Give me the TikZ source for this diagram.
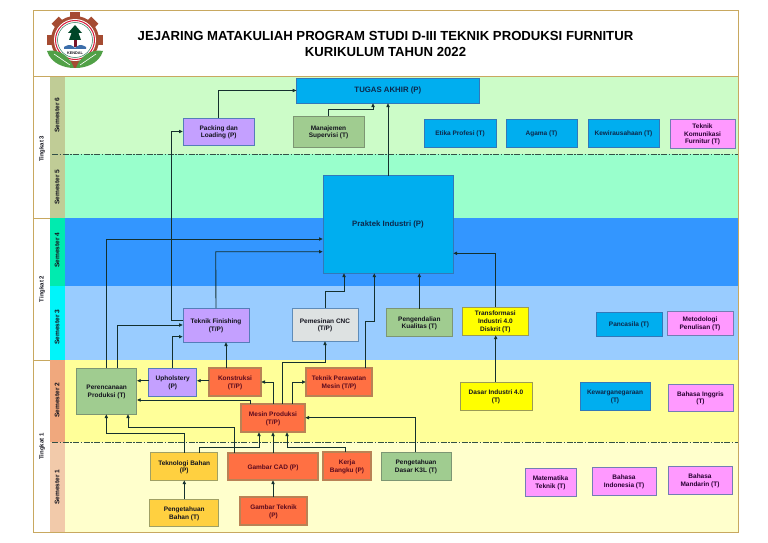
\documentclass[tikz,border=0pt]{standalone}
\usepackage{fontspec}
\setmainfont{Liberation Sans}
\usetikzlibrary{arrows.meta}
\definecolor{frameC}{HTML}{C8A860}
\definecolor{lineC}{HTML}{14302E}
\definecolor{txtC}{HTML}{14141E}
\tikzset{
  every node/.style={inner sep=0pt,outer sep=0pt,font=\bfseries\fontsize{6.5}{7.7}\selectfont,text=txtC,align=center},
  conn/.style={draw=lineC,line width=0.9pt,-{Latex[length=4pt,width=3.8pt]}},
  bluebox/.style={fill={rgb,255:red,0;green,174;blue,239},draw={rgb,255:red,50;green,120;blue,185},line width=1pt,text={rgb,255:red,12;green,40;blue,75}},
  purplebox/.style={fill={rgb,255:red,196;green,160;blue,255},draw={rgb,255:red,85;green,125;blue,185},line width=1pt},
  greenbox/.style={fill={rgb,255:red,160;green,204;blue,144},draw={rgb,255:red,125;green,150;blue,115},line width=1pt},
  orangebox/.style={fill={rgb,255:red,255;green,112;blue,67},draw={rgb,255:red,185;green,130;blue,85},line width=1.6pt,text={rgb,255:red,90;green,10;blue,30}},
  goldbox/.style={fill={rgb,255:red,255;green,208;blue,64},draw={rgb,255:red,160;green,160;blue,100},line width=1pt},
  yellowbox/.style={fill={rgb,255:red,255;green,255;blue,0},draw={rgb,255:red,155;green,155;blue,85},line width=1pt},
  graybox/.style={fill={rgb,255:red,222;green,226;blue,226},draw={rgb,255:red,95;green,140;blue,185},line width=1pt},
  pinkbox/.style={fill={rgb,255:red,255;green,153;blue,255},draw={rgb,255:red,115;green,125;blue,180},line width=1pt,text={rgb,255:red,40;green,0;blue,50}},
  semlabel/.style={rotate=90,font=\bfseries\fontsize{6.6}{7}\selectfont},
  tinglabel/.style={rotate=90,font=\bfseries\fontsize{6}{7}\selectfont},
  sepline/.style={draw={rgb,255:red,50;green,80;blue,70},line width=0.7pt,dash pattern=on 6pt off 1.5pt on 1.5pt off 1.5pt}
}
\newcommand{\boxnode}[7]{%
  \pgfmathsetmacro\bw{#4-#2}\pgfmathsetmacro\bh{#5-#3}%
  \pgfmathsetmacro\bx{(#2+#4)/2}\pgfmathsetmacro\by{(#3+#5)/2}%
  \node[#6,minimum width=\bw pt,minimum height=\bh pt] (#1) at (\bx,\by) {\rule{0pt}{6.4pt}#7};}
\begin{document}
\begin{tikzpicture}[x=1pt,y=-1pt]
\useasboundingbox (0,0) rectangle (768,543);
% bands
\fill[white] (0,0) rectangle (768,543);
\fill[fill={rgb,255:red,204;green,252;blue,200}] (65,76) rectangle (738,154);
\fill[fill={rgb,255:red,153;green,255;blue,204}] (65,154) rectangle (738,218);
\fill[fill={rgb,255:red,51;green,150;blue,255}] (65,218) rectangle (738,286);
\fill[fill={rgb,255:red,153;green,204;blue,255}] (65,286) rectangle (738,360);
\fill[fill={rgb,255:red,255;green,255;blue,153}] (65,360) rectangle (738,442);
\fill[fill={rgb,255:red,255;green,255;blue,204}] (65,442) rectangle (738,532);
% semester strips
\fill[fill={rgb,255:red,192;green,204;blue,150}] (50,76) rectangle (65,218);
\fill[fill={rgb,255:red,0;green,235;blue,175}] (50,218) rectangle (65,286);
\fill[fill={rgb,255:red,0;green,245;blue,250}] (50,286) rectangle (65,360);
\fill[fill={rgb,255:red,240;green,168;blue,125}] (50,360) rectangle (65,442);
\fill[fill={rgb,255:red,242;green,202;blue,170}] (50,442) rectangle (65,532);
% frame
\draw[frameC,line width=1pt] (33,10.5) rectangle (738,532);
\draw[frameC,line width=1pt] (33,76) -- (738,76);
\draw[frameC,line width=0.7pt] (33,218) -- (50,218);
\draw[frameC,line width=0.7pt] (33,360) -- (50,360);
\draw[sepline] (52,154) -- (738,154);
\draw[sepline] (52,442) -- (738,442);
% side labels
\node[tinglabel] (t3) at (42,148.8) {Tingkat 3};
\node[tinglabel] (t2) at (42,289) {Tingkat 2};
\node[tinglabel] (t1) at (42,446.7) {Tingkat 1};
\node[semlabel] (s6) at (57,115) {Semester 6};
\node[semlabel] (s5) at (57,187) {Semester 5};
\node[semlabel] (s4) at (57,250) {Semester 4};
\node[semlabel] (s3) at (57,327) {Semester 3};
\node[semlabel] (s2) at (57,400) {Semester 2};
\node[semlabel] (s1) at (57,487) {Semester 1};
% title
\node[font=\bfseries\fontsize{13.15}{16.4}\selectfont,text=black] (title) at (385.5,43.8) {JEJARING MATAKULIAH PROGRAM STUDI D-III TEKNIK PRODUKSI FURNITUR\\KURIKULUM TAHUN 2022};
% logo
\begin{scope}[shift={(75,40)}]
  \foreach \a in {0,45,...,315}{
    \fill[fill={rgb,255:red,165;green,75;blue,50},rotate=\a] (-5,-28) rectangle (5,-21);
  }
  \fill[fill={rgb,255:red,165;green,75;blue,50}] (0,0) circle (24);
  \fill[white] (0,0) circle (21);
  \draw[draw={rgb,255:red,215;green,30;blue,60},line width=1pt] (0,0) circle (19.5);
  \draw[draw={rgb,255:red,40;green,120;blue,90},line width=0.5pt] (0,0) circle (17.5);
  \fill[fill={rgb,255:red,120;green,20;blue,40}] (-1.5,-9) rectangle (1.5,7);
  \fill[fill={rgb,255:red,0;green,70;blue,40}] (0,-15) -- (7,-7) -- (3.5,-7) -- (6,0) -- (-6,0) -- (-3.5,-7) -- (-7,-7) -- cycle;
  \fill[fill={rgb,255:red,60;green,110;blue,170}] (-11,7) .. controls (-5,3) and (-2,6) .. (0,8) .. controls (2,6) and (5,3) .. (11,7) -- (11,9) -- (-11,9) -- cycle;
  \fill[fill={rgb,255:red,80;green,160;blue,70}] (-1,28) .. controls (-10,28) and (-24,24) .. (-28,11) .. controls (-18,9) and (-6,14) .. (-1,28) -- cycle;
  \fill[fill={rgb,255:red,80;green,160;blue,70}] (1,28) .. controls (10,28) and (24,24) .. (28,11) .. controls (18,9) and (6,14) .. (1,28) -- cycle;
  \draw[white,line width=0.6pt] (-5,25) -- (-21,14);
  \draw[white,line width=0.6pt] (5,25) -- (21,14);
  \node[font=\bfseries\fontsize{3.8}{4}\selectfont] (kendal) at (0,13) {KENDAL};
\end{scope}
% nodes
\boxnode{tugas}{296.7}{78}{479}{103}{bluebox}{\fontsize{7.8}{9}\selectfont TUGAS AKHIR (P)}
\boxnode{packing}{183}{118}{254.5}{145}{purplebox}{Packing dan\\Loading (P)}
\boxnode{manajemen}{293}{116}{364}{147}{greenbox}{Manajemen\\Supervisi (T)}
\boxnode{praktek}{323}{175.5}{453}{273}{bluebox}{\fontsize{7.8}{9}\selectfont Praktek Industri (P)}
\boxnode{etika}{424}{119}{496}{147}{bluebox}{Etika Profesi (T)}
\boxnode{agama}{506}{119}{577}{147}{bluebox}{Agama (T)}
\boxnode{kewira}{588}{119}{659}{147}{bluebox}{Kewirausahaan (T)}
\boxnode{tekkom}{670}{119}{735}{148}{pinkbox}{Teknik\\Komunikasi\\Furnitur (T)}
\boxnode{finishing}{183}{308}{249}{342}{purplebox}{Teknik Finishing\\(T/P)}
\boxnode{pemesinan}{292}{308}{358}{341}{graybox}{Pemesinan CNC\\(T/P)}
\boxnode{kualitas}{386.7}{308.7}{452}{336}{greenbox}{Pengendalian\\Kualitas (T)}
\boxnode{transform}{462.7}{307}{528}{335}{yellowbox}{Transformasi\\Industri 4.0\\Diskrit (T)}
\boxnode{pancasila}{596}{312}{662}{336}{bluebox}{Pancasila (T)}
\boxnode{metodologi}{667}{311}{733}{335}{pinkbox}{Metodologi\\Penulisan (T)}
\boxnode{perencanaan}{76.7}{368}{136.7}{414}{greenbox}{Perencanaan\\Produksi (T)}
\boxnode{upholstery}{148.7}{368}{196.7}{396}{purplebox}{Upholstery\\(P)}
\boxnode{konstruksi}{209}{368}{261}{396}{orangebox}{Konstruksi\\(T/P)}
\boxnode{perawatan}{306}{368}{372}{396}{orangebox}{Teknik Perawatan\\Mesin (T/P)}
\boxnode{mesin}{241}{404}{305}{432}{orangebox}{Mesin Produksi\\(T/P)}
\boxnode{dasar}{460}{382}{532}{410}{yellowbox}{Dasar Industri 4.0\\(T)}
\boxnode{kewarga}{580}{382}{650}{410}{bluebox}{Kewarganegaraan\\(T)}
\boxnode{inggris}{668}{384}{733}{411}{pinkbox}{Bahasa Inggris\\(T)}
\boxnode{tekbahan}{150.7}{452.7}{217.7}{480}{goldbox}{Teknologi Bahan\\(P)}
\boxnode{cad}{228}{453}{318}{480}{orangebox}{Gambar CAD (P)}
\boxnode{kerja}{323}{452}{371}{480}{orangebox}{Kerja\\Bangku (P)}
\boxnode{ktiga}{381}{452}{451}{480}{greenbox}{Pengetahuan\\Dasar K3L (T)}
\boxnode{pengbahan}{149.7}{499}{218.7}{526.7}{goldbox}{Pengetahuan\\Bahan (T)}
\boxnode{gamtek}{240}{497}{307}{525}{orangebox}{Gambar Teknik\\(P)}
\boxnode{matematika}{525}{468}{576}{496}{pinkbox}{Matematika\\Teknik (T)}
\boxnode{indonesia}{592}{467}{656}{495}{pinkbox}{Bahasa\\Indonesia (T)}
\boxnode{mandarin}{668}{466}{732}{494}{pinkbox}{Bahasa\\Mandarin (T)}
% connectors
\draw[conn] (packing.north) |- (tugas.west);
\draw[conn] (328.5,0 |- manajemen.north) -- (328.5,109) -- (373,109) -- (373,0 |- tugas.south);
\draw[conn] (388,0 |- praktek.north) -- (388,0 |- tugas.south);
\draw[conn] (finishing.west |- 0,320.7) -- (171,320.7) -- (171,131.5) -- (packing.west);
\draw[conn] (106.3,0 |- perencanaan.north) -- (106.3,239) -- (praktek.west |- 0,239);
\draw[conn] (finishing.north) -- (215.7,251.7) -- (praktek.west |- 0,251.7);
\draw[conn] (117.7,0 |- perencanaan.north) -- (117.7,325) -- (finishing.west |- 0,325);
\draw[conn] (upholstery.north) -- (172.7,336.7) -- (finishing.west |- 0,336.7);
\draw[conn] (226,0 |- konstruksi.north) -- (226,0 |- finishing.south);
\draw[conn] (konstruksi.west |- 0,380.7) -- (upholstery.east |- 0,380.7);
\draw[conn] (upholstery.west |- 0,380.7) -- (perencanaan.east |- 0,380.7);
\draw[conn] (273,0 |- mesin.north) -- (273,382) -- (konstruksi.east |- 0,382);
\draw[conn] (250.7,0 |- mesin.north) -- (250.7,400) -- (perencanaan.east |- 0,400);
\draw[conn] (282.7,0 |- mesin.north) -- (282.7,362.7) -- (325,362.7) -- (pemesinan.south);
\draw[conn] (292,0 |- mesin.north) -- (292,382) -- (perawatan.west |- 0,382);
\draw[conn] (pemesinan.north) -- (325,291) -- (344,291) -- (344,0 |- praktek.south);
\draw[conn] (365.3,0 |- perawatan.north) -- (365.3,321) -- (374.3,321) -- (374.3,0 |- praktek.south);
\draw[conn] (419.3,0 |- kualitas.north) -- (419.3,0 |- praktek.south);
\draw[conn] (495.7,0 |- transform.north) -- (495.7,253.3) -- (praktek.east |- 0,253.3);
\draw[conn] (495.7,0 |- dasar.north) -- (495.7,0 |- transform.south);
\draw[conn] (415.7,0 |- ktiga.north) -- (415.7,417.7) -- (mesin.east |- 0,417.7);
\draw[conn] (345,0 |- kerja.north) -- (345,447) -- (287,447) -- (287,0 |- mesin.south);
\draw[conn] (273,0 |- cad.north) -- (273,0 |- mesin.south);
\draw[conn] (273,0 |- gamtek.north) -- (273,0 |- cad.south);
\draw[conn] (199.3,0 |- tekbahan.north) -- (199.3,447) -- (259,447) -- (259,0 |- mesin.south);
\draw[conn] (184.3,0 |- tekbahan.north) -- (184.3,433.3) -- (106.3,433.3) -- (106.3,0 |- perencanaan.south);
\draw[conn] (234,0 |- cad.north) -- (234,427.3) -- (128,427.3) -- (128,0 |- perencanaan.south);
\draw[conn] (184.3,0 |- pengbahan.north) -- (184.3,0 |- tekbahan.south);
\end{tikzpicture}
\end{document}
